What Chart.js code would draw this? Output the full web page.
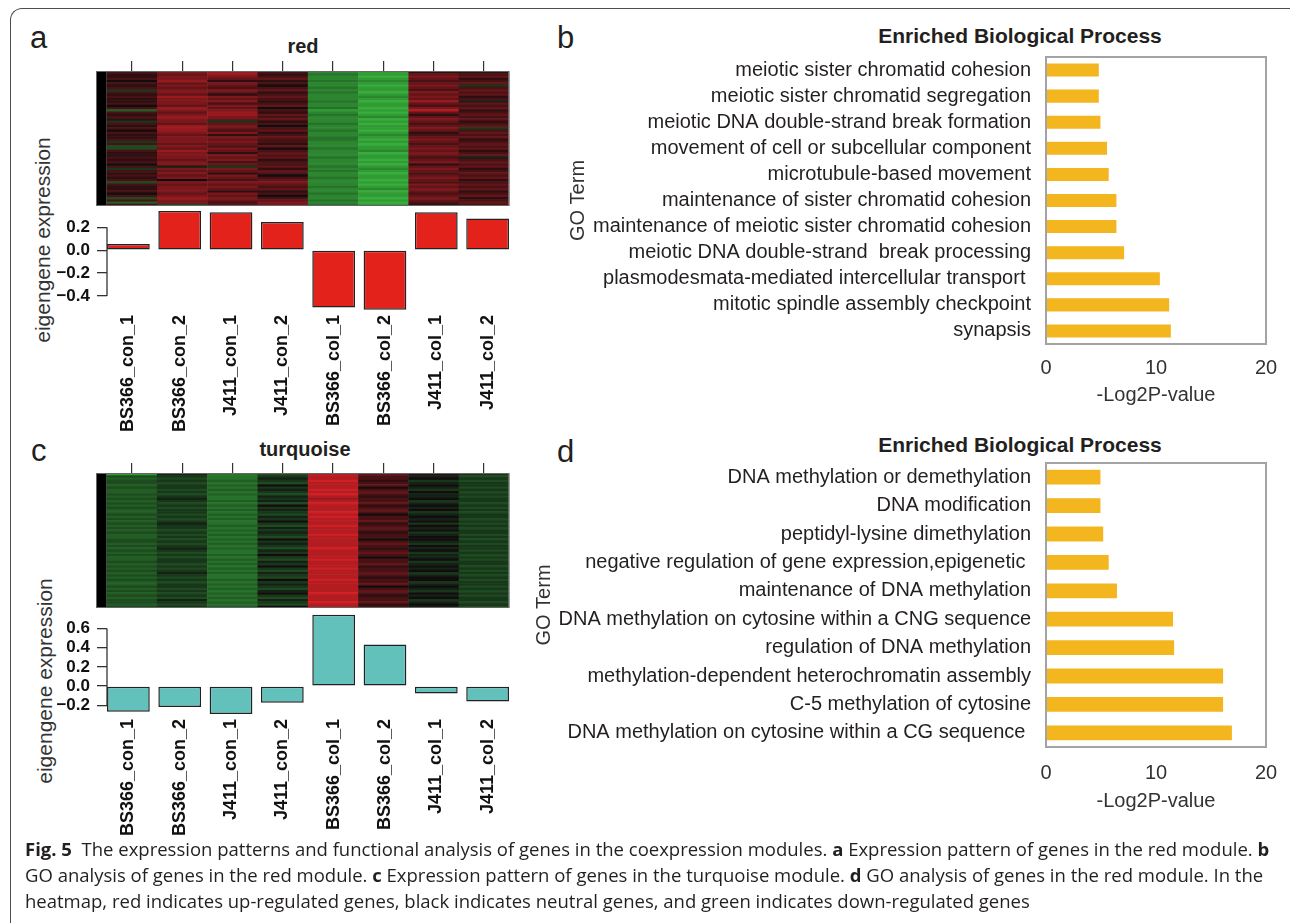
<!DOCTYPE html>
<html>
<head>
<meta charset="utf-8">
<script src="https://cdn.jsdelivr.net/npm/chart.js@4.4.1/dist/chart.umd.min.js"></script>
<style>
  body { margin: 0; background: #fff; width: 1290px; height: 923px; position: relative; overflow: hidden;
         font-family: "Liberation Sans", Arial, sans-serif; color: #231f20; }
  .frame { position: absolute; left: 10px; top: 8px; width: 1400px; height: 1000px;
           border-top: 1.5px solid #4d4d4d; border-left: 1.5px solid #4d4d4d; border-top-left-radius: 12px; }
  .txt { position: absolute; line-height: 1; white-space: nowrap; }
  .letter { font-size: 31px; }
  .title { font-weight: bold; transform: translateX(-50%); }
  .ylab { font-size: 21px; color: #333; transform: translate(-50%, -50%) rotate(-90deg); }
  canvas { position: absolute; }
  .caption { position: absolute; left: 25px; top: 836px; font-family: "Open Sans", "Noto Sans", sans-serif;
             font-size: 18.5px; line-height: 26px; color: #231f20; white-space: nowrap; }
</style>
</head>
<body>
<div class="frame"></div>

<div class="txt letter" style="left:30px;top:22px">a</div>
<div class="txt letter" style="left:557px;top:22px">b</div>
<div class="txt letter" style="left:31px;top:435px">c</div>
<div class="txt letter" style="left:557px;top:436px">d</div>

<div class="txt title" style="left:303px;top:36px;font-size:20px">red</div>
<div class="txt title" style="left:305px;top:439px;font-size:20px">turquoise</div>
<div class="txt title" style="left:1020px;top:25px;font-size:21px">Enriched Biological Process</div>
<div class="txt title" style="left:1020px;top:434px;font-size:21px">Enriched Biological Process</div>

<div class="txt ylab" style="left:42px;top:240px">eigengene expression</div>
<div class="txt ylab" style="left:44px;top:681px">eigengene expression</div>

<canvas id="heatRed" width="530" height="155" style="left:0;top:51px"></canvas>
<canvas id="barRed" width="530" height="250" style="left:0;top:200px"></canvas>
<canvas id="heatTurq" width="530" height="155" style="left:0;top:453px"></canvas>
<canvas id="barTurq" width="530" height="250" style="left:0;top:604px"></canvas>
<canvas id="goRed" width="750" height="400" style="left:540px;top:20px"></canvas>
<canvas id="goTurq" width="770" height="400" style="left:520px;top:430px"></canvas>

<div class="caption"><b>Fig. 5</b>&nbsp; The expression patterns and functional analysis of genes in the coexpression modules. <b>a</b> Expression pattern of genes in the red module. <b>b</b><br>GO analysis of genes in the red module. <b>c</b> Expression pattern of genes in the turquoise module. <b>d</b> GO analysis of genes in the red module. In the<br>heatmap, red indicates up-regulated genes, black indicates neutral genes, and green indicates down-regulated genes</div>

<script>
Chart.defaults.font.family = '"Liberation Sans", Arial, sans-serif';

const samples = ["BS366_con_1", "BS366_con_2", "J411_con_1", "J411_con_2",
                 "BS366_col_1", "BS366_col_2", "J411_col_1", "J411_col_2"];

// module eigengene per sample
const redEigengene = [0.054, 0.342, 0.33, 0.246, -0.50, -0.52, 0.33, 0.275];
const turquoiseEigengene = [-0.266, -0.218, -0.29, -0.173, 0.743, 0.432, -0.076, -0.159];
const redTicks = [0.2, 0, -0.2, -0.4];
const turquoiseTicks = [0.6, 0.4, 0.2, 0, -0.2];

// heatmap rows (top to bottom), one string per sample: 0 = green, 8 = black, g = red
const redHeat = [
  "a99a8a9a6a9a99a8a4a9a96a9a8a99a6a55a99a9a8a6a9a9a5a99a8a5a4a",
  "cbccdbcbccbdcccbdcbcdccbdddcbcccbcbdcccbcc7cbcbc8cbcccbcdcc5",
  "ddcb9cbacb9cbcacbcddcb6bcbac9cbcbacb9cbcab6cb9cbacbcb9cbcbab",
  "a9ab9a8ab9aba9ab8a9bab9a8ab9abaa9b8abab9aab9ba8abcbab9a8abcc",
  "232232232322232231232223223223322232223222323223222322322323",
  "110121011012101101012010110121010112011010121011010120110101",
  "9bcbabcbacbcbdbaceb9bcbabcb9abcbabcbcbabc9bcbabcbacbcbabcba9",
  "9ab9ab6abab9a7bab9abab9ab6abab9abab9ab7abab9abab9abab9ab9aba"
];
const turquoiseHeat = [
  "154554544545454544545454545445545454544545454545445454545545",
  "765656656567656566565676656565656765656656567656566565657656",
  "333434343433434343434334343434343433434343434334343434343434",
  "567658676576758676576865767658676576865768657658676578657658",
  "eeefeeefefedefeeefefeeefeeefeeeeefeeeefeeefeeeefeeeeefeeefee",
  "baa9ab8aba9aab9aba8aab9aba9aa8aba9aba8aab9aaba9aab8aba9aab9a",
  "978678768778678786787868786788768786778678786788678768786787",
  "656566565656656565665656566565656656565665656565665656566565"
];

// GO enrichment, panel b (red module) and panel d
const goTermsRed = [
  "meiotic sister chromatid cohesion",
  "meiotic sister chromatid segregation",
  "meiotic DNA double-strand break formation",
  "movement of cell or subcellular component",
  "microtubule-based movement",
  "maintenance of sister chromatid cohesion",
  "maintenance of meiotic sister chromatid cohesion",
  "meiotic DNA double-strand  break processing",
  "plasmodesmata-mediated intercellular transport ",
  "mitotic spindle assembly checkpoint",
  "synapsis"
];
const goValuesRed = [4.8, 4.8, 4.95, 5.55, 5.7, 6.4, 6.4, 7.1, 10.35, 11.2, 11.35];

const goTermsTurq = [
  "DNA methylation or demethylation",
  "DNA modification",
  "peptidyl-lysine dimethylation",
  "negative regulation of gene expression,epigenetic ",
  "maintenance of DNA methylation",
  "DNA methylation on cytosine within a CNG sequence",
  "regulation of DNA methylation",
  "methylation-dependent heterochromatin assembly",
  "C-5 methylation of cytosine",
  "DNA methylation on cytosine within a CG sequence "
];
const goValuesTurq = [4.95, 4.95, 5.2, 5.7, 6.45, 11.55, 11.65, 16.1, 16.1, 16.9];
const goTicks = [0, 10, 20];

function heatColor(ch) {
  const v = (parseInt(ch, 17) - 8) / 8;
  if (v >= 0) {
    return `rgb(${Math.round(18 + 215 * v)},${Math.round(12 + 22 * v)},${Math.round(14 + 26 * v)})`;
  }
  const a = -v;
  return `rgb(${Math.round(14 + 40 * a)},${Math.round(14 + 160 * a)},${Math.round(14 + 44 * a)})`;
}

// fixed axis box, no extra edge padding from the labels
function fixBox(size) {
  return s => {
    if (s.isHorizontal()) s.height = size; else s.width = size;
    s.paddingLeft = 0; s.paddingRight = 0; s.paddingTop = 0; s.paddingBottom = 0;
  };
}

// paints the heatmap cells from the column strings using the chart scales
const heatPlugin = {
  id: 'heat',
  beforeDatasetsDraw(chart, args, opts) {
    const { ctx, scales: { x, y }, chartArea } = chart;
    ctx.save();
    // module colour strip on the left
    ctx.fillStyle = '#000';
    ctx.fillRect(x.getPixelForValue(x.min), chartArea.top,
                 x.getPixelForValue(0) - x.getPixelForValue(x.min), chartArea.bottom - chartArea.top);
    opts.columns.forEach((col, i) => {
      const n = col.length;
      const x0 = x.getPixelForValue(i), x1 = x.getPixelForValue(i + 1);
      for (let r = 0; r < n; r++) {
        const y0 = y.getPixelForValue(r / n), y1 = y.getPixelForValue((r + 1) / n);
        ctx.fillStyle = heatColor(col[r]);
        ctx.fillRect(x0, y0, x1 - x0 + 0.4, y1 - y0 + 0.6);
      }
    });
    ctx.strokeStyle = '#666';
    ctx.lineWidth = 1;
    ctx.strokeRect(chartArea.left + 0.5, chartArea.top + 0.5,
                   chartArea.right - chartArea.left - 1, chartArea.bottom - chartArea.top - 1);
    ctx.restore();
  }
};

function heatmap(id, columns) {
  return new Chart(document.getElementById(id), {
    type: 'scatter',
    data: { datasets: [{ data: [] }] },
    options: {
      responsive: false,
      animation: false,
      layout: { padding: { left: 96, right: 21, top: 0, bottom: 0 } },
      plugins: { legend: { display: false }, tooltip: { enabled: false }, heat: { columns } },
      scales: {
        x: {
          type: 'linear', position: 'top', min: -0.2127, max: columns.length,
          afterBuildTicks: s => { s.ticks = columns.map((_, i) => ({ value: i + 0.5 })); },
          afterFit: fixBox(20),
          grid: { drawOnChartArea: false, tickLength: 10, color: '#333', lineWidth: 1.2 },
          border: { display: false },
          ticks: { display: false }
        },
        y: { display: false, min: 0, max: 1, reverse: true }
      }
    },
    plugins: [heatPlugin]
  });
}

// R style axis line running only between the outer ticks
const rAxisPlugin = {
  id: 'rAxis',
  afterDraw(chart) {
    const { ctx, chartArea, scales: { y } } = chart;
    const t = y.ticks;
    ctx.save();
    ctx.strokeStyle = '#333';
    ctx.lineWidth = 1.3;
    ctx.beginPath();
    ctx.moveTo(chartArea.left, y.getPixelForValue(t[0].value));
    ctx.lineTo(chartArea.left, y.getPixelForValue(t[t.length - 1].value));
    ctx.stroke();
    ctx.restore();
  }
};

function fmt(v) {
  if (Math.abs(v) < 1e-9) return '0.0';
  return (v < 0 ? '\u2212' : '') + Math.abs(v).toFixed(1);
}

function eigengeneChart(id, values, color, ticks, yMin, yMax) {
  return new Chart(document.getElementById(id), {
    type: 'bar',
    data: {
      datasets: [{
        data: values.map((v, i) => ({ x: i, y: v })),
        backgroundColor: color,
        borderColor: '#222',
        borderWidth: 1.5,
        borderSkipped: false,
        categoryPercentage: 1,
        barPercentage: 0.833
      }]
    },
    options: {
      responsive: false,
      animation: false,
      layout: { padding: { top: 10, right: 21, left: 0, bottom: 0 } },
      plugins: { legend: { display: false }, tooltip: { enabled: false } },
      scales: {
        x: {
          type: 'linear', offset: false, min: -0.4167, max: samples.length - 0.5833,
          afterBuildTicks: s => { s.ticks = samples.map((_, i) => ({ value: i })); },
          afterFit: fixBox(139),
          grid: { display: false, drawTicks: false },
          border: { display: false },
          ticks: {
            autoSkip: false, minRotation: 90, maxRotation: 90, padding: 4, color: '#111',
            font: { size: 18, weight: 'bold' },
            callback: v => samples[v]
          }
        },
        y: {
          min: yMin, max: yMax,
          afterBuildTicks: s => { s.ticks = ticks.map(v => ({ value: v })); },
          afterFit: fixBox(107),
          grid: { drawOnChartArea: false, tickLength: 10, color: '#333', lineWidth: 1.3 },
          border: { display: false },
          ticks: { padding: 7, color: '#111', font: { size: 17, weight: 'bold' }, callback: v => fmt(v) }
        }
      }
    },
    plugins: [rAxisPlugin]
  });
}

const boxPlugin = {
  id: 'box',
  afterDraw(chart) {
    const { ctx, chartArea: a } = chart;
    ctx.save();
    ctx.strokeStyle = '#a3a3a3';
    ctx.lineWidth = 2;
    ctx.strokeRect(a.left, a.top, a.right - a.left, a.bottom - a.top);
    ctx.restore();
  }
};

function goChart(id, terms, values, o) {
  return new Chart(document.getElementById(id), {
    type: 'bar',
    data: {
      labels: terms,
      datasets: [{ data: values, backgroundColor: '#f3b61f', categoryPercentage: 1, barPercentage: o.bar }]
    },
    options: {
      indexAxis: 'y',
      responsive: false,
      animation: false,
      layout: { padding: { top: o.top, right: 24, left: 0, bottom: 0 } },
      plugins: { legend: { display: false }, tooltip: { enabled: false } },
      scales: {
        x: {
          min: 0, max: 20,
          afterBuildTicks: s => { s.ticks = goTicks.map(v => ({ value: v })); },
          afterFit: fixBox(o.xh),
          grid: { display: false, drawTicks: false },
          border: { display: false },
          ticks: { padding: o.tickPad, color: '#333', font: { size: 20 } },
          title: { display: true, text: '-Log2P-value', color: '#333', font: { size: 20 },
                   padding: { top: 0, bottom: o.titlePad } }
        },
        y: {
          afterFit: fixBox(o.yw),
          grid: { display: false, drawTicks: false },
          border: { display: false },
          ticks: { padding: 15, color: '#231f20', font: { size: 20 }, autoSkip: false },
          title: { display: true, text: 'GO Term', color: '#333', font: { size: 20 },
                   padding: { top: o.goPad, bottom: 0 } }
        }
      }
    },
    plugins: [boxPlugin]
  });
}

heatmap('heatRed', redHeat);
eigengeneChart('barRed', redEigengene, '#e3221c', redTicks, -0.53, 0.35);
heatmap('heatTurq', turquoiseHeat);
eigengeneChart('barTurq', turquoiseEigengene, '#62c1bb', turquoiseTicks, -0.3, 0.75);
goChart('goRed', goTermsRed, goValuesRed,
        { top: 37, xh: 76, yw: 506, bar: 0.5, tickPad: 12, titlePad: 13, goPad: 26 });
goChart('goTurq', goTermsTurq, goValuesTurq,
        { top: 33, xh: 83, yw: 526, bar: 0.52, tickPad: 14, titlePad: 17, goPad: 12 });
</script>
</body>
</html>
